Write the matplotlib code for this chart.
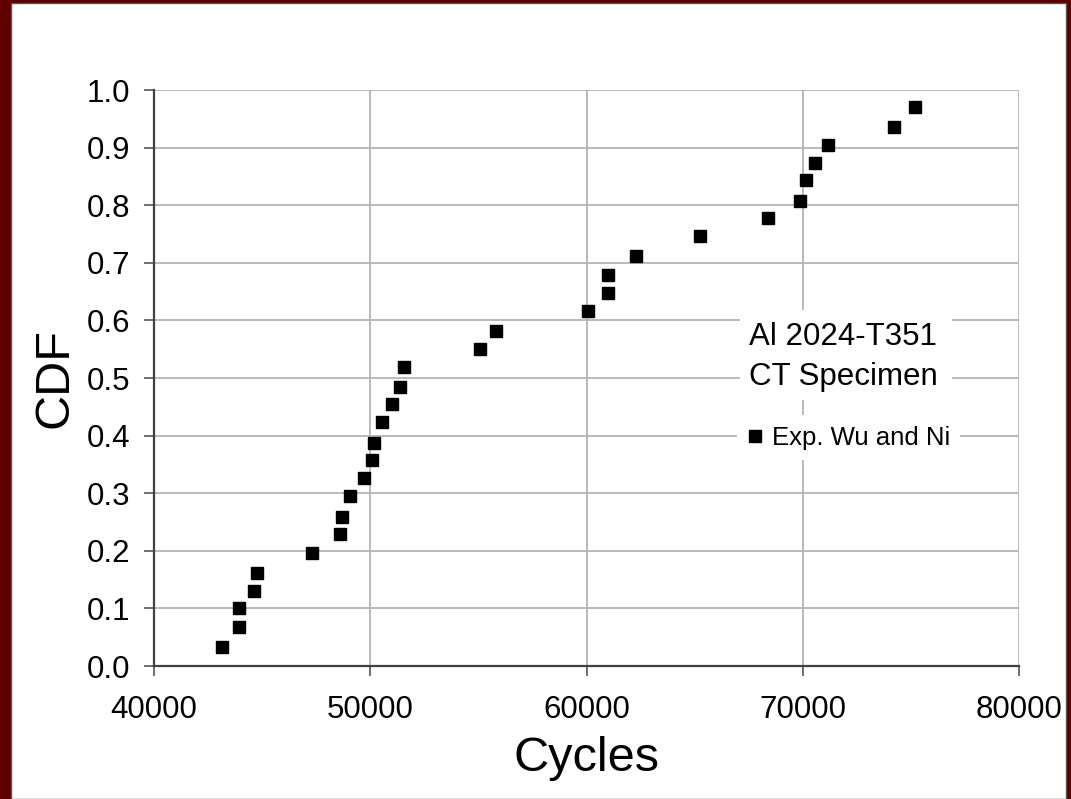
import matplotlib.pyplot as plt
from matplotlib.patches import Rectangle
from matplotlib.ticker import FormatStrFormatter

plt.rcParams['font.family'] = ['Liberation Sans', 'DejaVu Sans']

# data (Exp. Wu and Ni, Al 2024-T351 CT specimen)
cycles = [43150, 43930, 43930, 44620, 44760, 47290, 48590, 48680, 49050, 49700,
          50070, 50160, 50530, 50990, 51360, 51550, 55060, 55800, 60050, 60980,
          60980, 62280, 65230, 68380, 69860, 70140, 70570, 71150, 74200, 75200]
cdf = [0.033, 0.068, 0.101, 0.130, 0.161, 0.197, 0.229, 0.259, 0.295, 0.326,
       0.357, 0.388, 0.423, 0.454, 0.485, 0.519, 0.550, 0.581, 0.617, 0.648,
       0.679, 0.711, 0.746, 0.777, 0.808, 0.843, 0.874, 0.905, 0.936, 0.971]
x_ticks = [40000, 50000, 60000, 70000, 80000]
y_ticks = [0.0, 0.1, 0.2, 0.3, 0.4, 0.5, 0.6, 0.7, 0.8, 0.9, 1.0]

W, H = 1071, 799
fig = plt.figure(figsize=(W / 100, H / 100), dpi=100, facecolor='#5e0000')

# white slide panel inside the dark red frame
panel = Rectangle((11 / W, 0), (1066 - 11) / W, 1 - 3 / H, transform=fig.transFigure,
                  facecolor='white', edgecolor='#555555', linewidth=1.0, zorder=-10)
fig.patches.append(panel)

ax = fig.add_axes([154 / W, (H - 666) / H, 865 / W, 576 / H])
ax.set_facecolor('none')

ax.plot(cycles, cdf, linestyle='none', marker='s', markersize=8.5, color='black',
        label='Exp. Wu and Ni', zorder=5, clip_on=False)

ax.set_xlim(40000, 80000)
ax.set_ylim(0, 1)
ax.set_xticks(x_ticks)
ax.set_yticks(y_ticks)
ax.yaxis.set_major_formatter(FormatStrFormatter('%.1f'))

ax.grid(True, color='#b4b4b4', linewidth=1.3, zorder=1)
ax.set_axisbelow(True)
for s in ['top', 'right']:
    ax.spines[s].set_visible(False)
for s in ['left', 'bottom']:
    ax.spines[s].set_color('#404040')
    ax.spines[s].set_linewidth(1.6)

ax.tick_params(axis='both', direction='out', length=7, width=1.2, color='#555555',
               labelsize=22.5, labelcolor='black')
ax.tick_params(axis='x', pad=14)
ax.tick_params(axis='y', pad=10)

ax.set_xlabel('Cycles', fontsize=35)
ax.set_ylabel('CDF', fontsize=35)
ax.xaxis.set_label_coords(0.5, -0.122)
ax.yaxis.set_label_coords(-0.088, 0.5)

# white box behind the specimen text
ax.add_patch(Rectangle((0.6775, 0.462), 0.245, 0.156, transform=ax.transAxes,
                       facecolor='white', edgecolor='none', zorder=2))
ax.text(0.688, (666 - 345) / 576, 'Al 2024-T351', transform=ax.transAxes,
        fontsize=22.5, va='baseline', ha='left', zorder=3)
ax.text(0.688, (666 - 385) / 576, 'CT Specimen', transform=ax.transAxes,
        fontsize=22.5, va='baseline', ha='left', zorder=3)

leg = ax.legend(loc='center', bbox_to_anchor=(0.803, 0.3967), fontsize=18.5,
                frameon=True, fancybox=False, framealpha=1, edgecolor='white',
                handlelength=0.6, handletextpad=0.35, borderpad=0.4,
                borderaxespad=0, markerscale=1.0)
leg.get_frame().set_linewidth(0)
leg.set_zorder(4)

fig.savefig('out.png', dpi=100, facecolor=fig.get_facecolor())
